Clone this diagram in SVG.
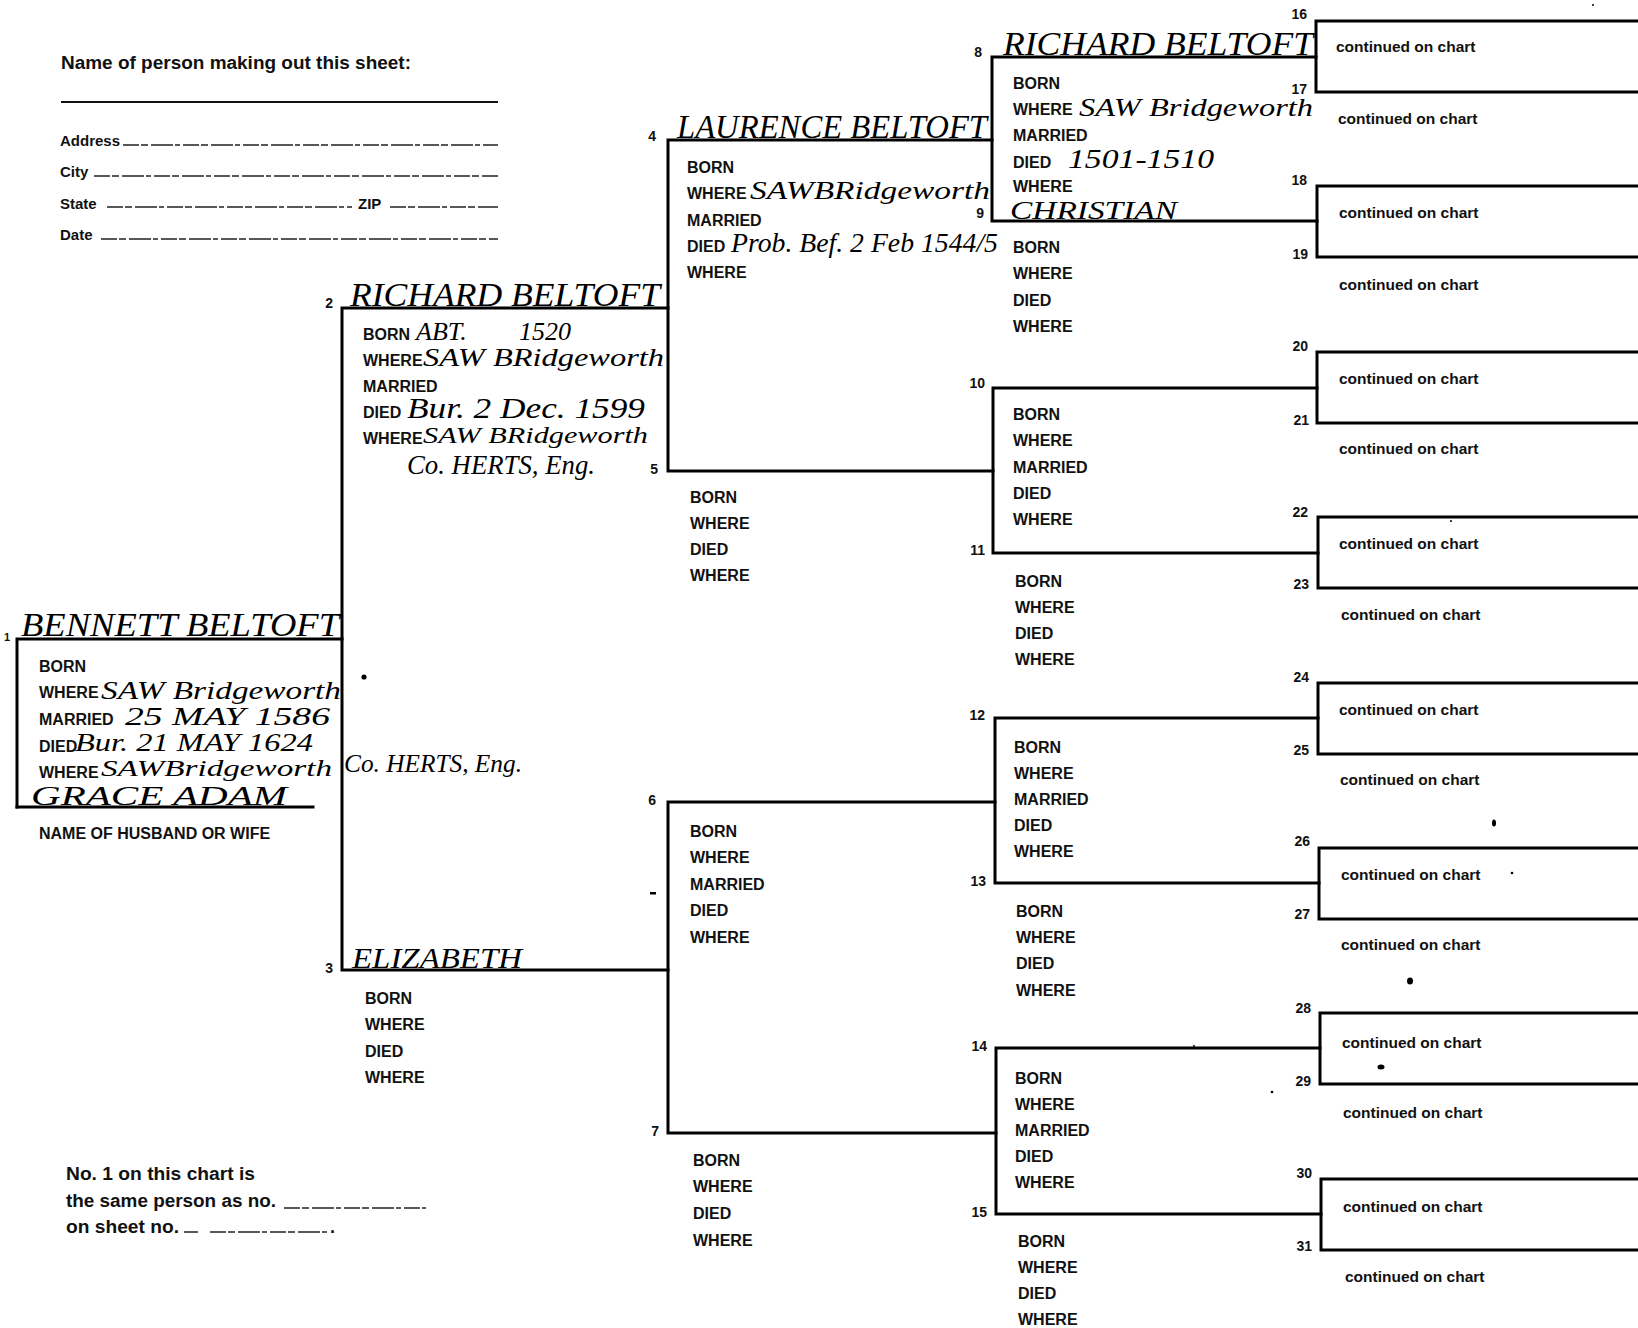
<svg xmlns="http://www.w3.org/2000/svg" width="1638" height="1328" viewBox="0 0 1638 1328">
<style>
.ln{stroke:#000;stroke-width:3;fill:none;stroke-linecap:square}
.rule{stroke:#111;stroke-width:1.8;fill:none}
.dash{stroke:#222;stroke-width:1.3;fill:none;stroke-dasharray:16 2 7 3 22 2 5 3}
.lb{font-family:"Liberation Sans",Arial,Helvetica,sans-serif;font-weight:bold;font-size:16px;fill:#111}
.fm{font-family:"Liberation Sans",Arial,Helvetica,sans-serif;font-weight:bold;font-size:15px;fill:#111}
.big{font-family:"Liberation Sans",Arial,Helvetica,sans-serif;font-weight:bold;font-size:18px;fill:#111}
.num{font-family:"Liberation Sans",Arial,Helvetica,sans-serif;font-weight:bold;font-size:14px;fill:#111;text-anchor:end}
.ct{font-family:"Liberation Sans",Arial,Helvetica,sans-serif;font-weight:bold;font-size:15.5px;fill:#111}
.hw{font-family:"Liberation Serif","Times New Roman",serif;font-style:italic;fill:#000}
.n{font-size:34px}
.d{font-size:26px}
</style>
<rect width="1638" height="1328" fill="#fff"/>

<g id="form-header">
<text class="big" x="61" y="69" textLength="350" lengthAdjust="spacingAndGlyphs">Name of person making out this sheet:</text>
<path class="rule" d="M61 102H498"/>
<text class="fm" x="60" y="146">Address</text>
<path class="dash" d="M123 145H498"/>
<text class="fm" x="60" y="177">City</text>
<path class="dash" d="M94 176H498"/>
<text class="fm" x="60" y="209">State</text>
<path class="dash" d="M107 207H352"/>
<text class="fm" x="358" y="209">ZIP</text>
<path class="dash" d="M390 207H498"/>
<text class="fm" x="60" y="240">Date</text>
<path class="dash" d="M101 239H498"/>
</g>

<g id="connectors">
<path class="ln" d="M17 807V639H342"/>
<path class="ln" d="M17 807H313"/>
<path class="ln" d="M668 308H342V970H668"/>
<path class="ln" d="M992 140H668V471H993"/>
<path class="ln" d="M995 802H668V1133H996"/>
<path class="ln" d="M1316 57H992V221H1317"/>
<path class="ln" d="M1317 388H993V553H1318"/>
<path class="ln" d="M1318 718H995V883H1319"/>
<path class="ln" d="M1320 1048H996V1214H1321"/>
<path class="ln" d="M1640 21H1316V92H1640"/>
<path class="ln" d="M1640 186H1317V257H1640"/>
<path class="ln" d="M1640 352H1317V423H1640"/>
<path class="ln" d="M1640 517H1318V588H1640"/>
<path class="ln" d="M1640 683H1318V754H1640"/>
<path class="ln" d="M1640 848H1319V919H1640"/>
<path class="ln" d="M1640 1013H1320V1084H1640"/>
<path class="ln" d="M1640 1179H1321V1250H1640"/>
</g>

<g id="person-1">
<text class="num" x="10" y="641" style="font-size:11px">1</text>
<text class="hw n" x="21" y="636" textLength="318" lengthAdjust="spacingAndGlyphs">BENNETT BELTOFT</text>
<text class="lb" x="39" y="672">BORN</text>
<text class="lb" x="39" y="698">WHERE</text>
<text class="hw d" x="101" y="699" textLength="240" lengthAdjust="spacingAndGlyphs">SAW Bridgeworth</text>
<text class="lb" x="39" y="725">MARRIED</text>
<text class="hw d" x="125" y="725" textLength="205" lengthAdjust="spacingAndGlyphs">25 MAY 1586</text>
<text class="lb" x="39" y="752">DIED</text>
<text class="hw d" x="75" y="751" textLength="238" lengthAdjust="spacingAndGlyphs">Bur. 21 MAY 1624</text>
<text class="lb" x="39" y="778">WHERE</text>
<text class="hw" x="101" y="776" style="font-size:24px" textLength="231" lengthAdjust="spacingAndGlyphs">SAWBridgeworth</text>
<text class="hw d" x="344" y="772" textLength="178" lengthAdjust="spacingAndGlyphs">Co. HERTS, Eng.</text>
<text class="hw" x="31" y="805" style="font-size:27px" textLength="256" lengthAdjust="spacingAndGlyphs">GRACE ADAM</text>
<text class="lb" x="39" y="839">NAME OF HUSBAND OR WIFE</text>
</g>

<g id="person-2">
<text class="num" x="333" y="308">2</text>
<text class="hw n" x="350" y="306" textLength="310" lengthAdjust="spacingAndGlyphs">RICHARD BELTOFT</text>
<text class="lb" x="363" y="340">BORN</text>
<text class="hw d" y="340"><tspan x="416">ABT.</tspan><tspan x="519">1520</tspan></text>
<text class="lb" x="363" y="366">WHERE</text>
<text class="hw d" x="423" y="366" textLength="241" lengthAdjust="spacingAndGlyphs">SAW BRidgeworth</text>
<text class="lb" x="363" y="392">MARRIED</text>
<text class="lb" x="363" y="418">DIED</text>
<text class="hw" x="407" y="418" style="font-size:30px" textLength="238" lengthAdjust="spacingAndGlyphs">Bur. 2 Dec. 1599</text>
<text class="lb" x="363" y="444">WHERE</text>
<text class="hw" x="423" y="443" style="font-size:24px" textLength="225" lengthAdjust="spacingAndGlyphs">SAW BRidgeworth</text>
<text class="hw" x="407" y="474" style="font-size:28px" textLength="188" lengthAdjust="spacingAndGlyphs">Co. HERTS, Eng.</text>
</g>

<g id="person-3">
<text class="num" x="333" y="973">3</text>
<text class="hw" x="352" y="968" style="font-size:30px" textLength="170" lengthAdjust="spacingAndGlyphs">ELIZABETH</text>
<text class="lb" x="365" y="1004">BORN</text>
<text class="lb" x="365" y="1030">WHERE</text>
<text class="lb" x="365" y="1057">DIED</text>
<text class="lb" x="365" y="1083">WHERE</text>
</g>

<g id="person-4">
<text class="num" x="656" y="141">4</text>
<text class="hw n" x="677" y="138" textLength="310" lengthAdjust="spacingAndGlyphs">LAURENCE BELTOFT</text>
<text class="lb" x="687" y="173">BORN</text>
<text class="lb" x="687" y="199">WHERE</text>
<text class="hw d" x="750" y="199" textLength="240" lengthAdjust="spacingAndGlyphs">SAWBRidgeworth</text>
<text class="lb" x="687" y="226">MARRIED</text>
<text class="lb" x="687" y="252">DIED</text>
<text class="hw" x="731" y="252" style="font-size:28px" textLength="267" lengthAdjust="spacingAndGlyphs">Prob. Bef. 2 Feb 1544/5</text>
<text class="lb" x="687" y="278">WHERE</text>
</g>

<g id="person-5">
<text class="num" x="658" y="474">5</text>
<text class="lb" x="690" y="503">BORN</text>
<text class="lb" x="690" y="529">WHERE</text>
<text class="lb" x="690" y="555">DIED</text>
<text class="lb" x="690" y="581">WHERE</text>
</g>

<g id="person-6">
<text class="num" x="656" y="805">6</text>
<text class="lb" x="690" y="837">BORN</text>
<text class="lb" x="690" y="863">WHERE</text>
<text class="lb" x="690" y="890">MARRIED</text>
<text class="lb" x="690" y="916">DIED</text>
<text class="lb" x="690" y="943">WHERE</text>
</g>

<g id="person-7">
<text class="num" x="659" y="1136">7</text>
<text class="lb" x="693" y="1166">BORN</text>
<text class="lb" x="693" y="1192">WHERE</text>
<text class="lb" x="693" y="1219">DIED</text>
<text class="lb" x="693" y="1246">WHERE</text>
</g>

<g id="person-8">
<text class="num" x="982" y="57">8</text>
<text class="hw n" x="1003" y="55" textLength="310" lengthAdjust="spacingAndGlyphs">RICHARD BELTOFT</text>
<text class="lb" x="1013" y="89">BORN</text>
<text class="lb" x="1013" y="115">WHERE</text>
<text class="hw d" x="1079" y="116" textLength="234" lengthAdjust="spacingAndGlyphs">SAW Bridgeworth</text>
<text class="lb" x="1013" y="141">MARRIED</text>
<text class="lb" x="1013" y="168">DIED</text>
<text class="hw" x="1068" y="168" style="font-size:27px" textLength="146" lengthAdjust="spacingAndGlyphs">1501-1510</text>
<text class="lb" x="1013" y="192">WHERE</text>
</g>

<g id="person-9">
<text class="num" x="984" y="218">9</text>
<text class="hw" x="1010" y="219" style="font-size:25px" textLength="167" lengthAdjust="spacingAndGlyphs">CHRISTIAN</text>
<text class="lb" x="1013" y="253">BORN</text>
<text class="lb" x="1013" y="279">WHERE</text>
<text class="lb" x="1013" y="306">DIED</text>
<text class="lb" x="1013" y="332">WHERE</text>
</g>

<g id="person-10">
<text class="num" x="985" y="388">10</text>
<text class="lb" x="1013" y="420">BORN</text>
<text class="lb" x="1013" y="446">WHERE</text>
<text class="lb" x="1013" y="473">MARRIED</text>
<text class="lb" x="1013" y="499">DIED</text>
<text class="lb" x="1013" y="525">WHERE</text>
</g>

<g id="person-11">
<text class="num" x="985" y="555">11</text>
<text class="lb" x="1015" y="587">BORN</text>
<text class="lb" x="1015" y="613">WHERE</text>
<text class="lb" x="1015" y="639">DIED</text>
<text class="lb" x="1015" y="665">WHERE</text>
</g>

<g id="person-12">
<text class="num" x="985" y="720">12</text>
<text class="lb" x="1014" y="753">BORN</text>
<text class="lb" x="1014" y="779">WHERE</text>
<text class="lb" x="1014" y="805">MARRIED</text>
<text class="lb" x="1014" y="831">DIED</text>
<text class="lb" x="1014" y="857">WHERE</text>
</g>

<g id="person-13">
<text class="num" x="986" y="886">13</text>
<text class="lb" x="1016" y="917">BORN</text>
<text class="lb" x="1016" y="943">WHERE</text>
<text class="lb" x="1016" y="969">DIED</text>
<text class="lb" x="1016" y="996">WHERE</text>
</g>

<g id="person-14">
<text class="num" x="987" y="1051">14</text>
<text class="lb" x="1015" y="1084">BORN</text>
<text class="lb" x="1015" y="1110">WHERE</text>
<text class="lb" x="1015" y="1136">MARRIED</text>
<text class="lb" x="1015" y="1162">DIED</text>
<text class="lb" x="1015" y="1188">WHERE</text>
</g>

<g id="person-15">
<text class="num" x="987" y="1217">15</text>
<text class="lb" x="1018" y="1247">BORN</text>
<text class="lb" x="1018" y="1273">WHERE</text>
<text class="lb" x="1018" y="1299">DIED</text>
<text class="lb" x="1018" y="1325">WHERE</text>
</g>

<g id="ancestors-16-31">
<text class="num" x="1307" y="19">16</text><text class="ct" x="1336" y="52">continued on chart</text>
<text class="num" x="1307" y="94">17</text><text class="ct" x="1338" y="124">continued on chart</text>
<text class="num" x="1307" y="185">18</text><text class="ct" x="1339" y="218">continued on chart</text>
<text class="num" x="1308" y="259">19</text><text class="ct" x="1339" y="290">continued on chart</text>
<text class="num" x="1308" y="351">20</text><text class="ct" x="1339" y="384">continued on chart</text>
<text class="num" x="1309" y="425">21</text><text class="ct" x="1339" y="454">continued on chart</text>
<text class="num" x="1308" y="517">22</text><text class="ct" x="1339" y="549">continued on chart</text>
<text class="num" x="1309" y="589">23</text><text class="ct" x="1341" y="620">continued on chart</text>
<text class="num" x="1309" y="682">24</text><text class="ct" x="1339" y="715">continued on chart</text>
<text class="num" x="1309" y="755">25</text><text class="ct" x="1340" y="785">continued on chart</text>
<text class="num" x="1310" y="846">26</text><text class="ct" x="1341" y="880">continued on chart</text>
<text class="num" x="1310" y="919">27</text><text class="ct" x="1341" y="950">continued on chart</text>
<text class="num" x="1311" y="1013">28</text><text class="ct" x="1342" y="1048">continued on chart</text>
<text class="num" x="1311" y="1086">29</text><text class="ct" x="1343" y="1118">continued on chart</text>
<text class="num" x="1312" y="1178">30</text><text class="ct" x="1343" y="1212">continued on chart</text>
<text class="num" x="1312" y="1251">31</text><text class="ct" x="1345" y="1282">continued on chart</text>
</g>

<g id="form-footer">
<text class="big" x="66" y="1180" textLength="189" lengthAdjust="spacingAndGlyphs">No. 1 on this chart is</text>
<text class="big" x="66" y="1207" textLength="210" lengthAdjust="spacingAndGlyphs">the same person as no.</text>
<path class="dash" d="M284 1208H426"/>
<text class="big" x="66" y="1233" textLength="113" lengthAdjust="spacingAndGlyphs">on sheet no.</text>
<path class="dash" d="M184 1232H198M210 1232H330"/>
<text class="big" x="330" y="1233">.</text>
</g>

<g id="specks" fill="#000">
<circle cx="364" cy="677" r="2.6"/>
<rect x="650" y="892" width="6" height="2.5"/>
<ellipse cx="1494" cy="823" rx="2" ry="3.5"/>
<circle cx="1512" cy="873" r="1.3"/>
<ellipse cx="1410" cy="981" rx="3" ry="3.5"/>
<ellipse cx="1381" cy="1067" rx="3.5" ry="2.5"/>
<circle cx="1272" cy="1092" r="1.3"/>
<circle cx="1194" cy="1046" r="1"/>
<circle cx="1593" cy="5" r="1"/>
<circle cx="1451" cy="521" r="1"/>
</g>
</svg>
